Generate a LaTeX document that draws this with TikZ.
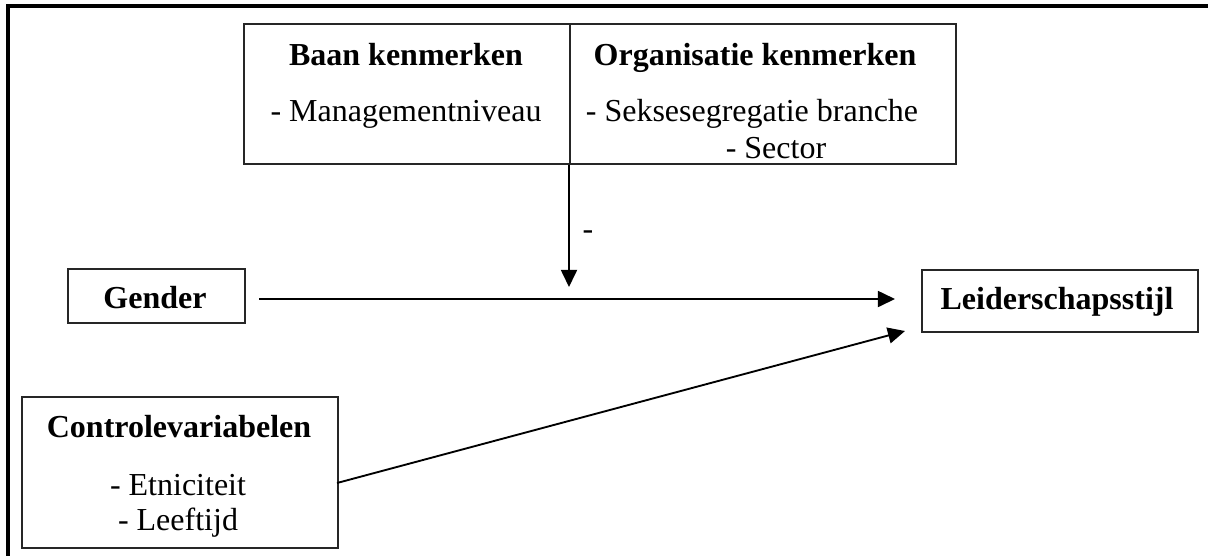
\documentclass[tikz,border=0pt]{standalone}
\usepackage{fontspec}
\setmainfont{Liberation Serif}
\usetikzlibrary{arrows.meta}
\begin{document}
\begin{tikzpicture}[x=0.375pt,y=-0.375pt,
  box/.style={draw=black!85, line width=0.6pt, rectangle, inner sep=0pt, anchor=north west},
  ttl/.style={font=\bfseries\fontsize{12pt}{14pt}\selectfont, anchor=base, inner sep=0pt},
  itm/.style={font=\fontsize{12pt}{14pt}\selectfont, anchor=base, inner sep=0pt},
  conn/.style={line width=0.7pt, -{Triangle[length=6.4pt,width=6pt]}},
  frameline/.style={line width=1.4pt, line cap=rect}]
\useasboundingbox (0,0) rectangle (1208,555);
% outer frame (top and left edges visible)
\draw[frameline] (8,555) -- (8,6) -- (1208,6);

% boxes
\node[box, minimum width=326*0.375pt, minimum height=140*0.375pt] (baan) at (243,23) {};
\node[box, minimum width=386*0.375pt, minimum height=140*0.375pt] (org) at (569,23) {};
\node[box, minimum width=177*0.375pt, minimum height=54*0.375pt] (gender) at (67,268) {};
\node[box, minimum width=276*0.375pt, minimum height=62*0.375pt] (lead) at (921,269) {};
\node[box, minimum width=316*0.375pt, minimum height=151*0.375pt] (ctrl) at (21,396) {};

% texts
\node[ttl] (baant) at (406,65) {Baan kenmerken};
\node[itm] (baani) at (406,121) {- Managementniveau};
\node[ttl] (orgt) at (755,65) {Organisatie kenmerken};
\node[itm] (orgi) at (752,121) {- Seksesegregatie branche};
\node[itm] (orgj) at (776,158) {- Sector};
\node[ttl] (gendert) at (155,308) {Gender};
\node[ttl] (leadt) at (1057,309) {Leiderschapsstijl};
\node[ttl] (ctrlt) at (179,437) {Controlevariabelen};
\node[itm] (ctrli) at (178,495) {- Etniciteit};
\node[itm] (ctrlj) at (178,530) {- Leeftijd};
\node[itm] (minus) at (588,239) {-};

% connector end points
\coordinate (gs) at (259,299);
\coordinate (ge) at (895,299);
\coordinate (mod) at (569,287);
\coordinate (cs) at (337,483);
\coordinate (ce) at (905,331);

% connectors
\draw[conn] (gs) -- (ge);
\draw[conn] (org.south west) -- (mod);
\draw[conn] (cs) -- (ce);
\end{tikzpicture}
\end{document}
